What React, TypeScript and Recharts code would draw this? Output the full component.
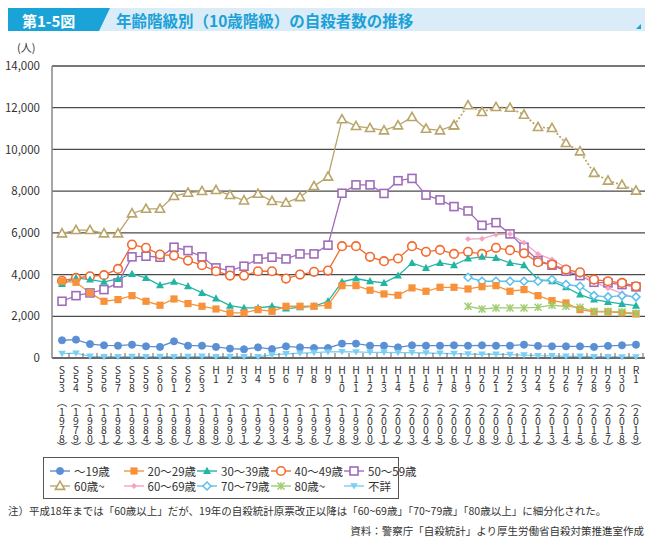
import React from 'react';
import { LineChart, Line, XAxis, YAxis, CartesianGrid } from 'recharts';

const eraLabels = ['S53','S54','S55','S56','S57','S58','S59','S60','S61','S62','S63','H1','H2','H3','H4','H5','H6','H7','H8','H9','H10','H11','H12','H13','H14','H15','H16','H17','H18','H19','H20','H21','H22','H23','H24','H25','H26','H27','H28','H29','H30','R1'];
const yearLabels = ['1978','1979','1980','1981','1982','1983','1984','1985','1986','1987','1988','1989','1990','1991','1992','1993','1994','1995','1996','1997','1998','1999','2000','2001','2002','2003','2004','2005','2006','2007','2008','2009','2010','2011','2012','2013','2014','2015','2016','2017','2018','2019'];

const under19 = [850,880,670,610,590,640,560,530,800,590,590,530,450,420,510,430,560,510,480,480,690,690,590,590,510,610,590,590,610,590,610,590,590,640,580,560,560,560,530,580,610,640];
const age20s = [3680,3630,3120,2720,2800,2990,2720,2530,2830,2610,2480,2350,2160,2160,2320,2240,2480,2480,2480,2530,3470,3470,3250,3070,3010,3360,3200,3390,3390,3310,3420,3470,3200,3280,2990,2750,2640,2320,2210,2210,2160,2110];
const age30s = [3550,3840,3760,3650,3790,4030,3840,3490,3650,3440,3120,2850,2510,2400,2400,2480,2370,2430,2480,2720,3650,3810,3680,3600,3950,4560,4320,4560,4450,4770,4850,4800,4560,4450,3760,3680,3390,3040,2800,2690,2590,2510];
const age40s = [3700,3840,3920,3970,4270,5440,5280,4960,4910,4670,4450,4160,3950,3950,4160,4160,3810,4000,4130,4190,5360,5360,4850,4640,4770,5360,5090,5180,4990,5090,4990,5280,5170,5020,4590,4480,4240,4110,3760,3680,3600,3440];
const age50s = [2720,2990,3120,3280,3600,4850,4880,4830,5310,5150,4850,4320,4190,4400,4750,4830,4750,4990,4990,5410,7900,8300,8300,7890,8500,8610,7810,7580,7260,7050,6360,6490,5950,5310,4670,4450,4160,3950,3630,3600,3520,3410];
const age60plus = [5970,6130,6130,5970,5970,6930,7150,7150,7760,7920,8000,8050,7810,7550,7870,7520,7440,7710,8240,8690,11440,11120,11020,10910,11150,11550,10990,10910,11150,12110,11790,12030,11990,11660,11070,11020,10300,9900,8870,8500,8300,8020];
const age60s = [null,null,null,null,null,null,null,null,null,null,null,null,null,null,null,null,null,null,null,null,null,null,null,null,null,null,null,null,null,5700,5720,5920,5950,5530,4990,4720,4330,3980,3650,3350,3100,2870];
const age70s = [null,null,null,null,null,null,null,null,null,null,null,null,null,null,null,null,null,null,null,null,null,null,null,null,null,null,null,null,null,3870,3680,3680,3680,3680,3680,3760,3520,3440,2990,2930,2990,2930];
const age80plus = [null,null,null,null,null,null,null,null,null,null,null,null,null,null,null,null,null,null,null,null,null,null,null,null,null,null,null,null,null,2480,2350,2400,2400,2400,2430,2530,2480,2430,2240,2240,2210,2140];
const unknownAge = [210,230,80,60,60,70,60,70,60,70,80,60,70,60,60,150,200,230,260,290,300,290,270,270,256,256,240,220,210,190,180,180,160,140,110,100,80,80,60,60,50,50];
const yTicks = [0,2000,4000,6000,8000,10000,12000,14000];
const splitIndex = 28; // H18: last year of combined "60歳~" (solid), dotted afterwards

const rows = eraLabels.map((era, i) => ({
  era,
  u19: under19[i],
  a20: age20s[i],
  a30: age30s[i],
  a40: age40s[i],
  a50: age50s[i],
  a60solid: i <= splitIndex ? age60plus[i] : null,
  a60dot: i >= splitIndex ? age60plus[i] : null,
  a6069: age60s[i],
  a7079: age70s[i],
  a80: age80plus[i],
  unk: unknownAge[i],
}));

const FONT = "'Noto Sans CJK JP', 'Noto Sans', sans-serif";

type ShapeKind = 'circle' | 'square' | 'triangle' | 'hcircle' | 'hsquare' | 'htriangle' | 'diamond' | 'hdiamond' | 'star' | 'dtriangle';

function Marker({ kind, cx, cy, color }: { kind: ShapeKind; cx: number; cy: number; color: string }) {
  switch (kind) {
    case 'circle':
      return <circle cx={cx} cy={cy} r={3.6} fill={color} stroke={color} strokeWidth={0.8} />;
    case 'square':
      return <rect x={cx - 3.6} y={cy - 3.6} width={7.2} height={7.2} fill={color} />;
    case 'triangle':
      return <polygon points={`${cx},${cy - 4.2} ${cx + 4},${cy + 3} ${cx - 4},${cy + 3}`} fill={color} />;
    case 'hcircle':
      return <circle cx={cx} cy={cy} r={4.3} fill="#fff" stroke={color} strokeWidth={1.6} />;
    case 'hsquare':
      return <rect x={cx - 4} y={cy - 4} width={8} height={8} fill="#fff" stroke={color} strokeWidth={1.6} />;
    case 'htriangle':
      return <polygon points={`${cx},${cy - 4.8} ${cx + 4.6},${cy + 3.4} ${cx - 4.6},${cy + 3.4}`} fill="#fff" stroke={color} strokeWidth={1.6} />;
    case 'diamond':
      return <polygon points={`${cx},${cy - 3} ${cx + 3},${cy} ${cx},${cy + 3} ${cx - 3},${cy}`} fill={color} />;
    case 'hdiamond':
      return <polygon points={`${cx},${cy - 4} ${cx + 4},${cy} ${cx},${cy + 4} ${cx - 4},${cy}`} fill="#fff" stroke={color} strokeWidth={1.5} />;
    case 'star':
      return (
        <g stroke={color} strokeWidth={1.5}>
          <line x1={cx - 3.5} y1={cy - 3.5} x2={cx + 3.5} y2={cy + 3.5} />
          <line x1={cx - 3.5} y1={cy + 3.5} x2={cx + 3.5} y2={cy - 3.5} />
          <line x1={cx} y1={cy - 3.8} x2={cx} y2={cy + 3.8} />
        </g>
      );
    case 'dtriangle':
      return <polygon points={`${cx - 3.8},${cy - 2.8} ${cx + 3.8},${cy - 2.8} ${cx},${cy + 3.6}`} fill={color} />;
  }
  return null;
}

const makeDot = (kind: ShapeKind, color: string) => (props: any) => {
  const { cx, cy, index, value } = props;
  if (cx == null || cy == null || value == null || (Array.isArray(value) && value[1] == null)) {
    return <g key={`e-${kind}-${index}`} />;
  }
  return <g key={`d-${kind}-${index}`}><Marker kind={kind} cx={cx} cy={cy} color={color} /></g>;
};

const series = [
  { key: 'u19', name: '～19歳', color: '#5b8fd4', kind: 'circle' as ShapeKind },
  { key: 'a20', name: '20～29歳', color: '#f7923a', kind: 'square' as ShapeKind },
  { key: 'a30', name: '30～39歳', color: '#22b5a2', kind: 'triangle' as ShapeKind },
  { key: 'a40', name: '40～49歳', color: '#f26a2e', kind: 'hcircle' as ShapeKind },
  { key: 'a50', name: '50～59歳', color: '#9f6cb9', kind: 'hsquare' as ShapeKind },
  { key: 'a60solid', name: '60歳~', color: '#b9a56a', kind: 'htriangle' as ShapeKind },
  { key: 'a6069', name: '60～69歳', color: '#f5a3c3', kind: 'diamond' as ShapeKind },
  { key: 'a7079', name: '70～79歳', color: '#5cbfeb', kind: 'hdiamond' as ShapeKind },
  { key: 'a80', name: '80歳~', color: '#9ccc6c', kind: 'star' as ShapeKind },
  { key: 'unk', name: '不詳', color: '#7ccff2', kind: 'dtriangle' as ShapeKind },
];

const XTick = (props: any) => {
  const { x, y, payload } = props;
  const idx = eraLabels.indexOf(payload.value);
  const era = eraLabels[idx] || '';
  const yr = yearLabels[idx] || '';
  const items: { t: string; dy: number }[] = [];
  era.split('').forEach((c, k) => items.push({ t: c, dy: 11 + k * 9.2 }));
  items.push({ t: '︵', dy: 43 });
  yr.split('').forEach((c, k) => items.push({ t: c, dy: 53 + k * 9 }));
  items.push({ t: '︶', dy: 88 });
  return (
    <g>
      <line x1={x + 7} y1={y - 5} x2={x + 7} y2={y} stroke="#666" strokeWidth={1} />
      {items.map((it, k) => (
        <text key={k} x={x} y={y + it.dy} textAnchor="middle" dominantBaseline="central" fontSize={10.5} fill="#333" fontFamily={FONT}>
          {it.t}
        </text>
      ))}
    </g>
  );
};

function LegendIcon({ kind, color }: { kind: ShapeKind; color: string }) {
  return (
    <svg width={20} height={12} style={{ display: 'block' }}>
      <line x1={0} y1={6} x2={20} y2={6} stroke={color} strokeWidth={1.4} />
      <Marker kind={kind} cx={10} cy={6} color={color} />
    </svg>
  );
}

export default function App() {
  return (
    <div style={{ position: 'absolute', left: 0, top: 0, width: 652, height: 542, background: '#fff', fontFamily: FONT, overflow: 'hidden' }}>
      {/* header */}
      <svg width={652} height={36} style={{ position: 'absolute', left: 0, top: 0 }}>
        <rect x={8} y={8} width={637} height={23} fill="#d9ecf7" />
        <polygon points="8,8 110,8 99,31 8,31" fill="#19a3d6" />
        <text x={22} y={20} dominantBaseline="central" fontSize={15} fontWeight={700} fill="#fff" fontFamily={FONT}>第1-5図</text>
        <text x={116} y={20} dominantBaseline="central" fontSize={15.5} fontWeight={700} fill="#1ba1d8" fontFamily={FONT}>年齢階級別（10歳階級）の自殺者数の推移</text>
        <polygon points="641,24 641,29 636,29" fill="#1ba1d8" />
      </svg>
      <div style={{ position: 'absolute', left: 17, top: 39, fontSize: 11, color: '#333' }}>(人)</div>

      <div style={{ position: 'absolute', left: 0, top: 0 }}>
        <LineChart width={652} height={455} data={rows} margin={{ top: 66, right: 7, left: 0, bottom: 0 }}>
          <CartesianGrid vertical={false} stroke="#4a4a4a" strokeWidth={1.3} />
          <XAxis
            dataKey="era"
            interval={0}
            tick={<XTick />}
            tickLine={false}
            tickSize={0}
            tickMargin={0}
            height={97}
            padding={{ left: 10, right: 9 }}
            axisLine={{ stroke: '#666', strokeWidth: 1.5 }}
          />
          <YAxis
            width={52}
            domain={[0, 14000]}
            ticks={yTicks}
            interval={0}
            tickLine={false}
            tickMargin={6}
            axisLine={{ stroke: '#888', strokeWidth: 1.5 }}
            tick={{ fontSize: 11.5, fill: '#333', fontFamily: FONT }}
            tickFormatter={(v: number) => v.toLocaleString('en-US')}
          />
          <Line dataKey="a60solid" stroke="#b9a56a" strokeWidth={1.3} dot={makeDot('htriangle', '#b9a56a')} isAnimationActive={false} />
          <Line dataKey="a60dot" stroke="#b9a56a" strokeWidth={1.8} strokeDasharray="2 2" dot={makeDot('htriangle', '#b9a56a')} isAnimationActive={false} />
          <Line dataKey="a50" stroke="#9f6cb9" strokeWidth={1.3} dot={makeDot('hsquare', '#9f6cb9')} isAnimationActive={false} />
          <Line dataKey="a6069" stroke="#f5a3c3" strokeWidth={1.3} dot={makeDot('diamond', '#f5a3c3')} isAnimationActive={false} />
          <Line dataKey="a40" stroke="#f26a2e" strokeWidth={1.3} dot={makeDot('hcircle', '#f26a2e')} isAnimationActive={false} />
          <Line dataKey="a30" stroke="#22b5a2" strokeWidth={1.3} dot={makeDot('triangle', '#22b5a2')} isAnimationActive={false} />
          <Line dataKey="a7079" stroke="#5cbfeb" strokeWidth={1.3} dot={makeDot('hdiamond', '#5cbfeb')} isAnimationActive={false} />
          <Line dataKey="a20" stroke="#f7923a" strokeWidth={1.3} dot={makeDot('square', '#f7923a')} isAnimationActive={false} />
          <Line dataKey="a80" stroke="#9ccc6c" strokeWidth={1.3} dot={makeDot('star', '#9ccc6c')} isAnimationActive={false} />
          <Line dataKey="u19" stroke="#5b8fd4" strokeWidth={1.3} dot={makeDot('circle', '#5b8fd4')} isAnimationActive={false} />
          <Line dataKey="unk" stroke="#7ccff2" strokeWidth={1.3} dot={makeDot('dtriangle', '#7ccff2')} isAnimationActive={false} />
        </LineChart>
      </div>

      {/* legend */}
      <div style={{ position: 'absolute', left: 43, top: 457, width: 356, height: 42, border: '1px solid #555', boxSizing: 'border-box' }}>
        {series.map((s, i) => {
          const col = i % 5;
          const row = Math.floor(i / 5);
          return (
            <div key={s.key} style={{ position: 'absolute', left: 6 + col * 73.5, top: 6 + row * 15, display: 'flex', alignItems: 'center', height: 14 }}>
              <LegendIcon kind={s.kind} color={s.color} />
              <span style={{ marginLeft: 4, fontSize: 11.5, color: '#333', whiteSpace: 'nowrap', lineHeight: '14px' }}>{s.name}</span>
            </div>
          );
        })}
      </div>

      <div style={{ position: 'absolute', left: 8, top: 503, fontSize: 10.5, color: '#333', whiteSpace: 'nowrap' }}>
        注）平成18年までは「60歳以上」だが、19年の自殺統計原票改正以降は「60~69歳」「70~79歳」「80歳以上」に細分化された。
      </div>
      <div style={{ position: 'absolute', right: 8, top: 523, fontSize: 10.5, color: '#333', whiteSpace: 'nowrap' }}>
        資料：警察庁「自殺統計」より厚生労働省自殺対策推進室作成
      </div>
    </div>
  );
}
